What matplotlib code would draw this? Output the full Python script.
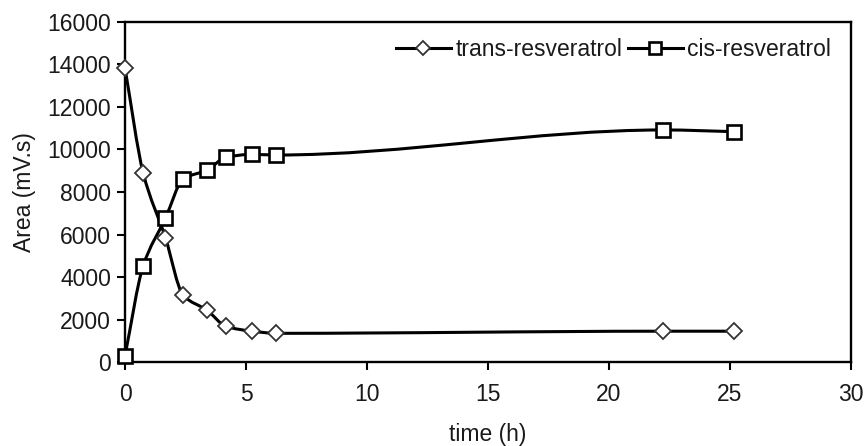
import numpy as np
import matplotlib
matplotlib.use("Agg")
import matplotlib.pyplot as plt
from matplotlib.path import Path
from matplotlib.patches import PathPatch
from matplotlib.lines import Line2D

plt.rcParams['font.family'] = ['Liberation Sans', 'DejaVu Sans']

time_h = [0, 0.75, 1.67, 2.4, 3.4, 4.17, 5.25, 6.25, 22.25, 25.17]
trans_resveratrol = [13820, 8900, 5850, 3150, 2430, 1680, 1450, 1350, 1450, 1450]
cis_resveratrol = [300, 4520, 6770, 8600, 9040, 9630, 9770, 9740, 10920, 10840]
series_names = ["trans-resveratrol", "cis-resveratrol"]
x_ticks = [0, 5, 10, 15, 20, 25, 30]
y_ticks = [0, 2000, 4000, 6000, 8000, 10000, 12000, 14000, 16000]


def smooth_path(x, y):
    """Bezier curve through the points with shape-preserving tangents."""
    x = np.asarray(x, float); y = np.asarray(y, float)
    n = len(x)
    h = np.diff(x)
    d = np.diff(y) / h
    m = np.zeros(n)
    for i in range(1, n - 1):
        if d[i - 1] * d[i] <= 0:
            m[i] = 0.0
        else:
            w1 = 2 * h[i] + h[i - 1]
            w2 = h[i] + 2 * h[i - 1]
            m[i] = (w1 + w2) / (w1 / d[i - 1] + w2 / d[i])
    m[0] = d[0]
    m[-1] = d[-1]
    verts = [(x[0], y[0])]
    codes = [Path.MOVETO]
    for i in range(n - 1):
        c1 = (x[i] + h[i] / 3, y[i] + m[i] * h[i] / 3)
        c2 = (x[i + 1] - h[i] / 3, y[i + 1] - m[i + 1] * h[i] / 3)
        verts += [c1, c2, (x[i + 1], y[i + 1])]
        codes += [Path.CURVE4] * 3
    return Path(verts, codes)


fig = plt.figure(figsize=(8.64, 4.46), dpi=100)
ax = fig.add_axes([0.1447, 0.1883, 0.8403, 0.7624])

fs = 16.5
tc = '#1a1a1a'
markers = ['D', 's']
msizes = [8.5, 9.5]
mews = [1.3, 1.9]
mecs = ['#333333', 'black']
for name, vals, mk, ms, mew, mec in zip(series_names, [trans_resveratrol, cis_resveratrol],
                                        markers, msizes, mews, mecs):
    ax.add_patch(PathPatch(smooth_path(time_h, vals), fill=False, lw=2.2,
                           edgecolor='black', zorder=3, clip_on=False))
    ax.plot(time_h, vals, linestyle='none', marker=mk, markersize=ms,
            markerfacecolor='white', markeredgecolor=mec, markeredgewidth=mew,
            zorder=4, clip_on=False)

ax.set_xlim(0, 30)
ax.set_ylim(0, 16000)
ax.set_xticks(x_ticks)
ax.set_yticks(y_ticks)
ax.tick_params(axis='both', direction='out', length=6, width=1.5,
               labelsize=fs, colors='black', labelcolor=tc)
ax.tick_params(axis='y', pad=4)
ax.tick_params(axis='x', pad=9)
for sp in ax.spines.values():
    sp.set_linewidth(1.7)

ax.set_xlabel("time (h)", fontsize=fs, color=tc, labelpad=12)
ax.set_ylabel("Area (mV.s)", fontsize=fs, color=tc, labelpad=8)

handles = [
    Line2D([], [], color='black', lw=2.2, marker='D', markersize=7,
           markerfacecolor='white', markeredgecolor='#333333', markeredgewidth=1.3),
    Line2D([], [], color='black', lw=2.2, marker='s', markersize=8,
           markerfacecolor='white', markeredgecolor='black', markeredgewidth=1.9),
]
leg = ax.legend(handles, series_names, loc='upper right', ncol=2, frameon=False,
                fontsize=fs, handlelength=2.4, handletextpad=0.2,
                columnspacing=0.25, borderaxespad=0.3,
                bbox_to_anchor=(0.995, 1.0))
for t in leg.get_texts():
    t.set_color(tc)

fig.savefig("out.png", dpi=100)
